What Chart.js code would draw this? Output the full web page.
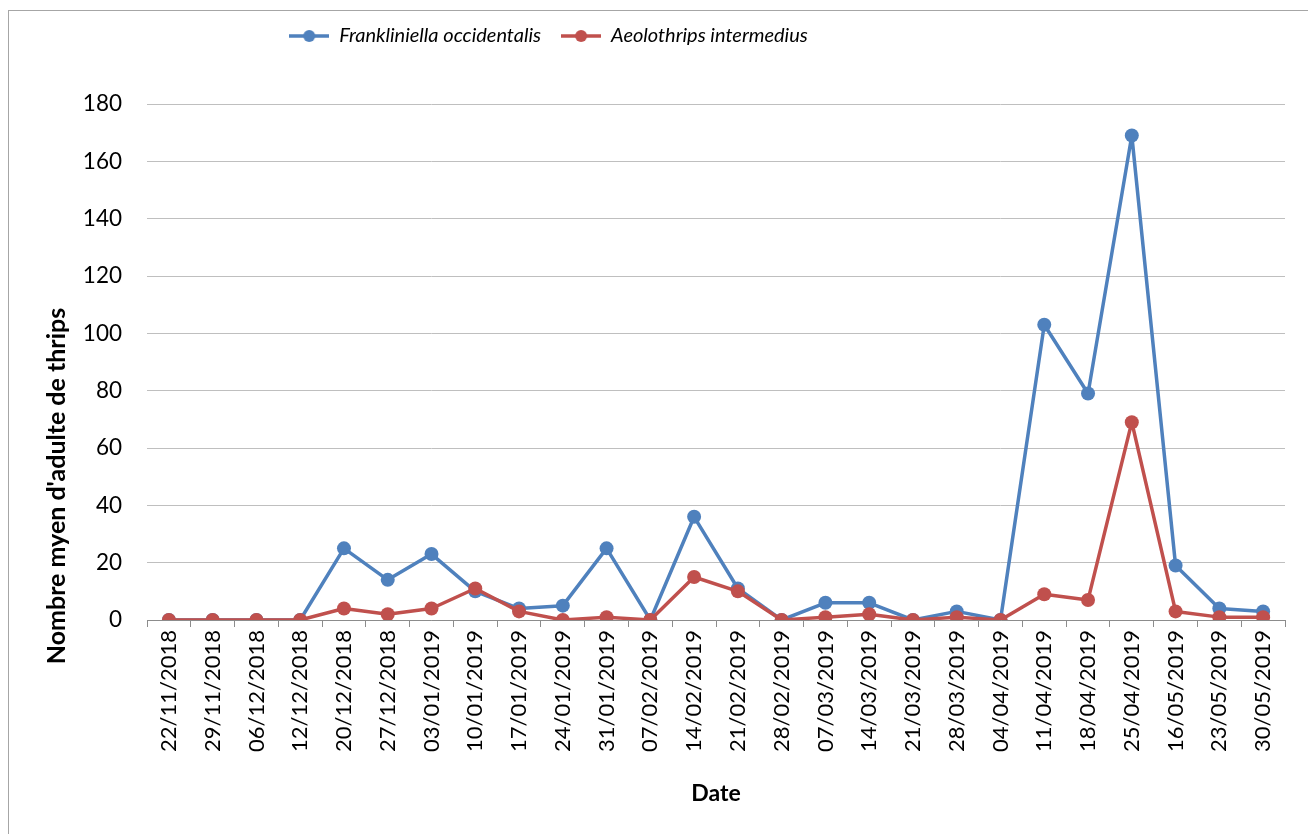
<!DOCTYPE html>
<html>
<head>
<meta charset="utf-8">
<script src="https://cdn.jsdelivr.net/npm/chart.js@4"></script>
<style>
  html, body { margin: 0; padding: 0; background: #fff; overflow: hidden; }
  #wrap { position: relative; width: 1308px; height: 834px; }
  #cadre { position: absolute; left: 8px; top: 10px; width: 1400px; height: 1000px;
           border: 1px solid #a6a6a6; pointer-events: none; }
</style>
</head>
<body>
<div id="wrap">
  <canvas id="grafico" width="1308" height="834"></canvas>
  <div id="cadre"></div>
</div>
<script>
// Dates des relevés
const dates = ['22/11/2018', '29/11/2018', '06/12/2018', '12/12/2018', '20/12/2018', '27/12/2018',
  '03/01/2019', '10/01/2019', '17/01/2019', '24/01/2019', '31/01/2019', '07/02/2019',
  '14/02/2019', '21/02/2019', '28/02/2019', '07/03/2019', '14/03/2019', '21/03/2019',
  '28/03/2019', '04/04/2019', '11/04/2019', '18/04/2019', '25/04/2019', '16/05/2019',
  '23/05/2019', '30/05/2019'];

// Nombre moyen d'adultes par espèce
const frankliniella = [0, 0, 0, 0, 25, 14, 23, 10, 4, 5, 25, 0, 36, 11, 0, 6, 6, 0, 3, 0, 103, 79, 169, 19, 4, 3];
const aeolothrips = [0, 0, 0, 0, 4, 2, 4, 11, 3, 0, 1, 0, 15, 10, 0, 1, 2, 0, 1, 0, 9, 7, 69, 3, 1, 1];

const yTicks = [0, 20, 40, 60, 80, 100, 120, 140, 160, 180];
const titreY = "Nombre myen d'adulte de thrips";

const bleu = '#4f81bd';
const rouge = '#c0504d';
const police = 'Lato, "Open Sans", sans-serif';

// petit symbole ligne + point pour la légende
function symbole(couleur) {
  const c = document.createElement('canvas');
  c.width = 40; c.height = 14;
  const g = c.getContext('2d');
  g.strokeStyle = couleur; g.lineWidth = 3.5;
  g.beginPath(); g.moveTo(0, 7); g.lineTo(40, 7); g.stroke();
  g.fillStyle = couleur;
  g.beginPath(); g.arc(20, 7, 6, 0, Math.PI * 2); g.fill();
  return c;
}

// ajuste la hauteur de la légende, la décale, et place le titre de l'axe Y comme dans Excel
const reglages = {
  id: 'reglages',
  beforeUpdate(chart) {
    const lg = chart.legend;
    if (lg && !lg._patched) {
      const fit = lg.fit;
      lg.fit = function () { fit.call(this); this.height = 98; };
      lg._patched = true;
    }
  },
  afterLayout(chart) {
    chart.legend.left -= 114;
    chart.legend.right -= 114;
  },
  afterDraw(chart) {
    const c = chart.ctx;
    c.save();
    c.translate(57, 486);
    c.rotate(-Math.PI / 2);
    c.textAlign = 'center';
    c.textBaseline = 'middle';
    c.fillStyle = '#000';
    c.font = 'bold 25px ' + police;
    c.fillText(titreY, 0, 0);
    c.restore();
  }
};

const ctx = document.getElementById('grafico').getContext('2d');
new Chart(ctx, {
  type: 'line',
  data: {
    labels: dates,
    datasets: [{
      label: 'Frankliniella occidentalis',
      data: frankliniella,
      borderColor: bleu,
      backgroundColor: bleu,
      borderWidth: 3.5,
      borderJoinStyle: 'round',
      pointRadius: 7,
      pointBorderWidth: 0,
      tension: 0,
      order: 2
    }, {
      label: 'Aeolothrips intermedius',
      data: aeolothrips,
      borderColor: rouge,
      backgroundColor: rouge,
      borderWidth: 3.5,
      borderJoinStyle: 'round',
      pointRadius: 7,
      pointBorderWidth: 0,
      tension: 0,
      order: 1
    }]
  },
  options: {
    responsive: false,
    animation: false,
    layout: { padding: { left: 40, right: 23, top: 6, bottom: 23 } },
    plugins: {
      tooltip: { enabled: false },
      legend: {
        position: 'top',
        labels: {
          usePointStyle: true,
          pointStyleWidth: 40,
          padding: 20,
          color: '#000',
          font: { family: police, size: 20, style: 'italic' },
          generateLabels: (chart) => chart.data.datasets.map((ds, i) => ({
            text: ds.label,
            pointStyle: symbole(ds.borderColor),
            fillStyle: ds.borderColor,
            strokeStyle: ds.borderColor,
            lineWidth: 0,
            fontColor: '#000',
            datasetIndex: i
          }))
        }
      }
    },
    scales: {
      x: {
        offset: true,
        afterFit: (s) => { s.height = 191; },
        grid: { offset: true, drawOnChartArea: false, tickLength: 7, color: '#8c8c8c' },
        border: { color: '#8c8c8c', width: 1 },
        ticks: {
          minRotation: 90, maxRotation: 90, autoSkip: false, padding: 3,
          color: '#000', font: { family: police, size: 22 }
        },
        title: {
          display: true, text: 'Date', color: '#000',
          font: { family: police, size: 23, weight: 'bold' }
        }
      },
      y: {
        min: 0,
        max: 180,
        afterFit: (s) => { s.width = 107; },
        afterBuildTicks: (s) => { s.ticks = yTicks.map(v => ({ value: v })); },
        grid: { drawTicks: false, color: '#bfbfbf' },
        border: { display: false },
        ticks: {
          padding: 25, color: '#000',
          font: { family: police, size: 22.5 }
        },
        title: { display: false }
      }
    }
  },
  plugins: [reglages]
});
</script>
</body>
</html>
